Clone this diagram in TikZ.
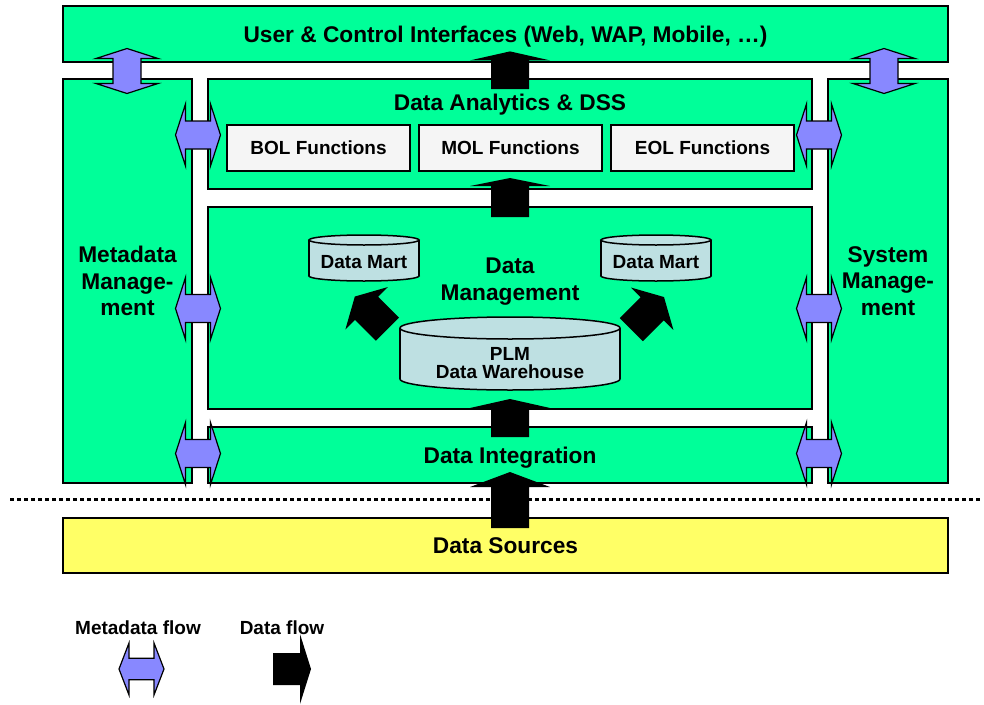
\documentclass[tikz,border=0pt]{standalone}
\usepackage{fontspec}
\setmainfont{Liberation Sans}
\usetikzlibrary{positioning, calc}

\definecolor{layergreen}{RGB}{0,255,153}
\definecolor{metablue}{RGB}{136,136,255}
\definecolor{sourceyellow}{RGB}{255,255,102}
\definecolor{funcgray}{RGB}{245,245,245}
\definecolor{storeblue}{RGB}{190,224,226}

% block arrows: shaft length / head height / shaft half width / head half width
\tikzset{
  pics/dataflow/.style args={#1/#2/#3/#4}{code={
    \fill[black] (-#3,0) -- (-#3,-#1) -- (-#4,-#1) -- (0,-#1-#2) -- (#4,-#1) -- (#3,-#1) -- (#3,0) -- cycle;
  }},
  pics/metaflow/.style args={#1/#2}{code={
    \filldraw[fill=metablue, draw=black, line width=1.2pt, line join=miter]
      (-22.5,0) -- (-12.5,-#2) -- (-12.5,-#1) -- (12.5,-#1) -- (12.5,-#2) -- (22.5,0)
      -- (12.5,#2) -- (12.5,#1) -- (-12.5,#1) -- (-12.5,#2) -- cycle;
  }}
}

% database cylinder: centre x, top, bottom, x radius, y radius
\newcommand{\dbstore}[5]{%
  \filldraw[store] (#1,#3-#5) ellipse [x radius=#4, y radius=#5];
  \fill[storeblue] (#1-#4,#2+#5) rectangle (#1+#4,#3-#5);
  \draw[store] (#1-#4,#2+#5) -- (#1-#4,#3-#5) (#1+#4,#2+#5) -- (#1+#4,#3-#5);
  \filldraw[store] (#1,#2+#5) ellipse [x radius=#4, y radius=#5];
}

\begin{document}
\begin{tikzpicture}[
  x=1pt, y=-1pt,
  layer/.style = {draw, line width=2pt, fill=layergreen, inner sep=0pt},
  func/.style = {draw, line width=2pt, fill=funcgray, minimum width=183pt, minimum height=46pt, inner sep=0pt},
  store/.style = {draw=black, line width=1.5pt, fill=storeblue},
  big/.style = {font=\fontsize{22.7}{26.5}\selectfont\bfseries, align=center, text depth=0pt},
  small/.style = {font=\fontsize{19}{18}\selectfont\bfseries, align=center},
  legend/.style = {font=\fontsize{19}{20}\selectfont\bfseries},
  cut/.style = {line width=3pt, dash pattern=on 4pt off 3pt}
]

\fill[white] (0,0) rectangle (984,704);
\useasboundingbox (0,0) rectangle (984,704);

% Layers
\node[layer, minimum width=885pt, minimum height=56pt, big] (ui) at (505.5,34) {User \& Control Interfaces (Web, WAP, Mobile, …)};
\node[layer, minimum width=129pt, minimum height=404pt, big] (meta) at (127.5,281) {Metadata\\Manage-\\ment};
\node[layer, minimum width=120pt, minimum height=404pt, big] (sys) at (888,281) {System\\Manage-\\ment};
\node[layer, minimum width=604pt, minimum height=110pt] (dss) at (510,134) {};
\node[layer, minimum width=604pt, minimum height=202pt] (dm) at (510,308) {};
\node[layer, minimum width=604pt, minimum height=56pt, big] (di) at (510,455) {Data Integration};
\node[layer, fill=sourceyellow, minimum width=885pt, minimum height=55pt, big] (src) at (505.5,545.5) {Data Sources};

% Analytics
\node[big] (dsstitle) at ($(dss.north)+(0,24)$) {Data Analytics \& DSS};
\node[func, small] (bol) at (318.5,148) {BOL Functions};
\node[func, small, right=7pt of bol] (mol) {MOL Functions};
\node[func, small, right=7pt of mol] (eol) {EOL Functions};

% Data management
\node[big] (dmtitle) at (510,279) {Data\\Management};
\dbstore{364}{235}{281}{55}{5}
\node[small] (martL) at (364,262) {Data Mart};
\dbstore{656}{235}{281}{55}{5}
\node[small] (martR) at (656,262) {Data Mart};
\dbstore{510}{317}{390}{110}{11}
\node[small] (plm) at (510,363) {PLM\\Data Warehouse};

% Separation line
\coordinate (cutL) at (10,499);
\coordinate (cutR) at (980,499);
\draw[cut] (cutL) -- (cutR);

% Data flow
\coordinate (srcin) at (src.north -| di.north);
\pic at ($(dss.north)+(0,11)$) {dataflow=28.6/9/19/40};
\pic at ($(dm.north)+(0,11)$) {dataflow=31/8/19/40};
\pic at ($(di.north)+(0,11)$) {dataflow=29/9/19/40};
\pic at ($(srcin)+(0,11)$) {dataflow=41/15/19/40};
\pic[rotate=45] at (387.5,329.2) {dataflow=29.6/16.6/16.3/30};
\pic[rotate=-45] at (631.3,329.7) {dataflow=29.6/16.6/16.3/30};

% Metadata flow
\pic[rotate=90] at (127,71) {metaflow=14/31};
\pic[rotate=90] at (884,71) {metaflow=14/31};
\foreach \y in {135, 308.5, 453.5} {
  \pic at (198,\y) {metaflow=14/31};
  \pic at (819,\y) {metaflow=14/31};
}

% Legend
\node[legend] (legmeta) at (138,628) {Metadata flow};
\node[legend] (legdata) at (282,628) {Data flow};
\pic at (141.5,669) {metaflow=10.7/26};
\pic[rotate=-90] at (273,669) {dataflow=27/11/16/35};

\end{tikzpicture}
\end{document}
